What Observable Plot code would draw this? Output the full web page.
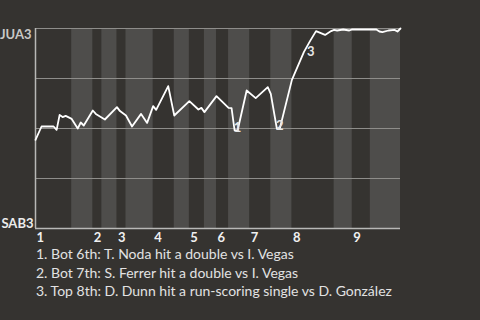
<!DOCTYPE html>
<html><head><meta charset="utf-8">
<script src="https://cdn.jsdelivr.net/npm/d3@7"></script>
<script src="https://cdn.jsdelivr.net/npm/@observablehq/plot@0.6"></script>
<style>
html,body{margin:0;padding:0;background:#353330;}
#chart{width:480px;height:320px;overflow:hidden;}
#chart svg{display:block;}
.notes{margin:0 0 0 36px;font:14px Lato, sans-serif;color:#e2e2e2;line-height:18.5px;}
</style></head><body><div id="chart"></div>
<script>
// play index of each vertex and win probability of the top team (JUA3)
const playIndex = [0,2,6,7,8,9,10,12,14,15,16,19,20,23,27,28,30,32,35,37,39,40,44,46,51,54,55,56,60,64,65,66,67,70,73,77,78,80,81,85,89,91,93,96,98,99,100,102,104,105,108,111,113,114,115,117,119,120,121];
const winProb = [0.443,0.51,0.51,0.493,0.568,0.557,0.563,0.548,0.50,0.53,0.515,0.59,0.573,0.545,0.607,0.587,0.565,0.51,0.573,0.528,0.612,0.593,0.712,0.565,0.637,0.595,0.603,0.582,0.662,0.603,0.602,0.49,0.49,0.69,0.652,0.707,0.673,0.50,0.50,0.743,0.883,0.937,0.987,0.968,0.987,0.993,0.99,0.995,0.99,0.996,0.995,0.996,0.995,0.985,0.982,0.99,0.993,0.985,1.0];
// first play of each half inning (top 1st, bot 1st, top 2nd, ...)
const halfInningStart = [0,12,19,22,27,30,39,46,51,56,60,64,71,78,85,99,105,111];
const lastPlay = 121;
const inningLabels = ["1","2","3","4","5","6","7","8","9"];
const teamTop = "JUA3";
const teamBottom = "SAB3";
const gridValues = [0.25,0.5,0.75,1];
const notePlays = [67,81,89];
const noteValues = [0.49,0.50,0.883];
const noteLabels = ["1","2","3"];
const noteTexts = [
  "1. Bot 6th: T. Noda hit a double vs I. Vegas",
  "2. Bot 7th: S. Ferrer hit a double vs I. Vegas",
  "3. Top 8th: D. Dunn hit a run-scoring single vs D. González"
];

const series = playIndex.map((p,i)=>({play:p, wp:winProb[i]}));
const bands = halfInningStart.map((s,i)=>({x1:s, x2: i+1<halfInningStart.length ? halfInningStart[i+1] : lastPlay, bottom: i%2===1})).filter(d=>d.bottom);
const innings = inningLabels.map((t,i)=>({play: halfInningStart[2*i], label:t}));
const notes = noteLabels.map((t,i)=>({play:notePlays[i], wp:noteValues[i], label:t}));
const font = "Lato, sans-serif";

const chart = Plot.plot({
  width: 480, height: 245,
  marginTop: 28, marginBottom: 17, marginLeft: 35, marginRight: 80,
  x: {domain: [0, lastPlay], axis: null},
  y: {domain: [0, 1], axis: null},
  style: {background: "#353330", fontFamily: font},
  marks: [
    Plot.rect(bands, {x1: "x1", x2: "x2", fill: "#4e4d4b"}),
    Plot.ruleY(gridValues, {stroke: "#8e8d8a", strokeWidth: 1}),
    Plot.ruleY([0], {stroke: "#b8b8b6", strokeWidth: 1.5}),
    Plot.ruleX([0], {stroke: "#b8b8b6", strokeWidth: 1.5}),
    Plot.line(series, {x: "play", y: "wp", stroke: "#ffffff", strokeWidth: 1.8}),
    Plot.text(notes.slice(0,2), {x: "play", y: "wp", text: "label", fill: "#e6e6e6", fontWeight: "bold", fontSize: 13, lineAnchor: "bottom", dy: 1}),
    Plot.text(notes.slice(2), {x: "play", y: "wp", text: "label", fill: "#e6e6e6", fontWeight: "bold", fontSize: 13, textAnchor: "start", dx: 3}),
    Plot.text(innings, {x: "play", y: () => 0, text: "label", fill: "#f0f0f0", fontWeight: "bold", fontSize: 13, textAnchor: "start", lineAnchor: "top", dy: 4, dx: 1}),
    Plot.text([teamTop], {x: () => 0, y: () => 1, text: d => d, fill: "#c8c8c6", fontWeight: "bold", fontSize: 13, textAnchor: "end", lineAnchor: "top", dx: -4, dy: 1}),
    Plot.text([teamBottom], {x: () => 0, y: () => 0, text: d => d, fill: "#ececec", fontWeight: "bold", fontSize: 13, textAnchor: "end", lineAnchor: "bottom", dx: -2, dy: -1})
  ]
});
const root = document.getElementById("chart");
root.appendChild(chart);
const notesDiv = document.createElement("div");
notesDiv.className = "notes";
noteTexts.forEach(t => { const d = document.createElement("div"); d.textContent = t; notesDiv.appendChild(d); });
root.appendChild(notesDiv);
</script>
</body></html>
